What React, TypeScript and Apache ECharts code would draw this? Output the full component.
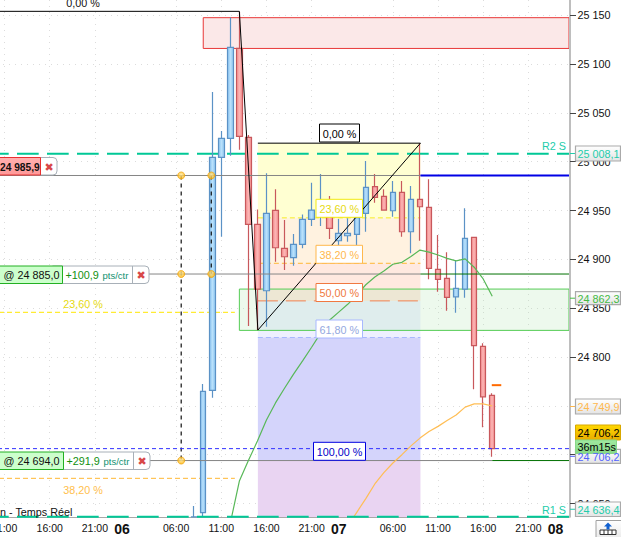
import React, { useEffect, useRef } from "react";
import * as echarts from "echarts";

// ---- Data -----------------------------------------------------------------
const hourLabels = [
  "10:00","11:00","12:00","13:00","14:00","15:00","16:00","17:00","18:00","19:00","20:00","21:00","22:00","23:00",
  "06","01:00","02:00","03:00","04:00","05:00","06:00","07:00","08:00","09:00","10:00","11:00","12:00","13:00","14:00","15:00","16:00","17:00","18:00","19:00","20:00","21:00","22:00","23:00",
  "07","01:00","02:00","03:00","04:00","05:00","06:00","07:00","08:00","09:00","10:00","11:00","12:00","13:00","14:00","15:00","16:00","17:00","18:00","19:00","20:00","21:00","22:00","23:00",
  "08","01:00",
];
const dayLabels = ["06", "07", "08"];
const labelledHours = ["06:00", "11:00", "16:00", "21:00"];
const tickedHours = ["01:00", "06:00", "11:00", "16:00", "21:00"];
const priceTicks = [24650, 24700, 24750, 24800, 24850, 24900, 24950, 25000, 25050, 25100, 25150];

const firstCandleIndex = 22;
// open, close, low, high
const candles = [
  [24636.2, 24636.4, 24636.2, 24647.4],
  [24640.6, 24764.9, 24636.2, 24772.3],
  [24765.9, 25004.5, 24758.3, 25071.4],
  [25004.5, 25023.9, 24923.2, 25031.4],
  [25023.9, 25117.1, 25006.1, 25147.8],
  [25116.1, 25026, 25012.3, 25153.6],
  [25025, 24935.9, 24831.7, 25027.3],
  [24935.9, 24869.6, 24827.6, 24951.2],
  [24867.9, 24947.1, 24831, 24988.1],
  [24950.2, 24911.9, 24897.6, 24971.7],
  [24911.3, 24902.7, 24889, 24940.3],
  [24901.7, 24915.4, 24893.5, 24926],
  [24915.4, 24941, 24911.3, 24946],
  [24941, 24950.5, 24934.1, 24978.5],
  [24946.4, 24956.7, 24934.1, 24987.4],
  [24953.6, 24931.8, 24920.8, 24964.9],
  [24919.1, 24926.7, 24909.6, 24941.3],
  [24924.2, 24926.7, 24918, 24942],
  [24925.6, 24942.8, 24914.7, 24952.6],
  [24947.1, 24973.8, 24928.3, 25000.7],
  [24974.4, 24963.5, 24958, 24987.4],
  [24964.5, 24950.5, 24949.8, 24971.7],
  [24949.8, 24968.6, 24943.7, 24980.2],
  [24968.6, 24928.3, 24923.2, 24980.2],
  [24928.3, 24961.5, 24906.2, 24975.1],
  [24961.5, 24953.9, 24919.1, 25018.8],
  [24953.3, 24890.8, 24879.6, 24982],
  [24889.8, 24879.6, 24866.9, 24924.9],
  [24880.6, 24861.1, 24847.4, 24907.2],
  [24861.7, 24870.3, 24845.4, 24899.3],
  [24869.6, 24921.5, 24860.7, 24952.3],
  [24922.6, 24811.6, 24766.9, 24922.6],
  [24810.9, 24759.3, 24728, 24814],
  [24760.8, 24706.2, 24697.9, 24762.8],
];

const greenMaStart = 26;
const greenMa = [
  24630, 24673, 24694, 24714, 24735.5, 24753, 24768, 24782.5, 24796, 24810, 24824.5, 24838, 24846, 24854, 24863.5,
  24874, 24882, 24888, 24895, 24897, 24903, 24909.5, 24907.5, 24904.5, 24901, 24898.5, 24900.5, 24892, 24880, 24862.3,
];
const orangeMaStart = 39;
const orangeMa = [
  24627, 24641, 24655, 24670, 24681.6, 24691.5, 24700, 24709, 24717, 24723.7, 24729, 24735, 24740.6, 24748.7, 24752, 24752, 24749.9,
];

const resistance2 = 25008.1;
const support1 = 24636.4;
const lastPrice = 24706.2;
const orderPrices = [24985.9, 24885.0, 24694.0];
const smallFibPrices = [24845.8, 24675.8];
const bigFibTop = 25154;
const bigFibBottom = 24827.6;
const fibTop = 25019;
const fibLevels = [24942.5, 24896, 24857.5, 24820, 24706.2];
const redZone = [25147.5, 25116];
const greenZone = [24869.6, 24827.3];
const nextMark = 24771.2;

// hour-index positions on the time axis
const axisEnd = 63.5;
const axisStart = -0.5;
const fibX = [29.05, 47.05];
const bigFibPeakX = 27;
const zoneRedX = 23;
const zoneGreenX = 27;
const orderDotX = [20.56, 23.89];
const smallFibEndX = 26.5;
const lastCandleX = 55;

// ---- Helpers ---------------------------------------------------------------
const FONT = "'Liberation Sans', Arial, sans-serif";
const TXT = `10.8px ${FONT}`;

function rectSeries(x0: number, x1: number, p0: number, p1: number, fill: string, stroke: string | null, z: number) {
  return {
    type: "custom",
    xAxisIndex: 1,
    yAxisIndex: 0,
    silent: true,
    z,
    clip: true,
    encode: { x: [0, 1], y: [2, 3] },
    data: [[x0, x1, p0, p1]],
    renderItem: (_: any, api: any) => {
      const a = api.coord([api.value(0), api.value(2)]);
      const b = api.coord([api.value(1), api.value(3)]);
      return {
        type: "rect",
        shape: { x: a[0], y: a[1], width: b[0] - a[0], height: b[1] - a[1] },
        style: { fill, stroke: stroke || undefined, lineWidth: stroke ? 1 : 0 },
      };
    },
  };
}

function lineSeries(points: number[][], color: string, width: number, dash: any, z: number, extra: any = {}) {
  return {
    type: "line",
    xAxisIndex: 1,
    yAxisIndex: 0,
    silent: true,
    showSymbol: false,
    symbol: "none",
    z,
    data: points,
    lineStyle: { color, width, type: dash || "solid", ...extra },
  };
}

function dotSeries(points: number[][]) {
  return {
    type: "scatter",
    xAxisIndex: 1,
    yAxisIndex: 0,
    silent: true,
    z: 8,
    symbolSize: 7,
    data: points,
    itemStyle: {
      color: new echarts.graphic.RadialGradient(0.5, 0.4, 0.6, [
        { offset: 0, color: "#ffe9a0" },
        { offset: 1, color: "#ffb400" },
      ]),
      borderColor: "#f0a818",
      borderWidth: 1,
    },
  };
}

const box = (x: number, y: number, w: number, h: number, fill: any, stroke: string, r: any = 0, lw = 1) => ({
  type: "rect",
  z: 30,
  shape: { x, y, width: w, height: h, r },
  style: { fill, stroke, lineWidth: lw },
});
const label = (x: number, y: number, text: string, fill: string, font = TXT, align = "left") => ({
  type: "text",
  z: 31,
  style: { x, y, text, fill, font, textAlign: align, textVerticalAlign: "middle" },
});
const vgrad = (a: string, b: string) =>
  new echarts.graphic.LinearGradient(0, 0, 0, 1, [
    { offset: 0, color: a },
    { offset: 1, color: b },
  ]);
const hgrad = (a: string, b: string) =>
  new echarts.graphic.LinearGradient(0, 0, 1, 0, [
    { offset: 0, color: a },
    { offset: 0.5, color: b },
    { offset: 1, color: a },
  ]);

function orderTag(y: number, split: number, end: number, price: string, gain: string) {
  return [
    box(split - 10, y, end - split + 10, 17.5, "#ffffff", "#a8b0b8", [0, 4, 4, 0]),
    box(-4, y, split + 4, 17.5, "#ccffcc", "#22b022"),
    { type: "line", z: 31, shape: { x1: split + 70, y1: y, x2: split + 70, y2: y + 17.5 }, style: { stroke: "#a8b0b8", lineWidth: 1 } },
    label(3.5, y + 9, price, "#101010", TXT),
    label(split + 3, y + 9, gain, "#109010", TXT),
    label(split + 40, y + 9.5, "pts/ctr", "#109070", `9.5px ${FONT}`),
    label(split + 78.5, y + 9, "✖", "#d84848", `11px 'DejaVu Sans'`, "center"),
  ];
}

function priceTag(y: number, h: number, text: string, color: string) {
  return [
    { type: "line", z: 29, shape: { x1: 570, y1: y + h / 2, x2: 576, y2: y + h / 2 }, style: { stroke: color, lineWidth: 1 } },
    box(575.5, y, 45, h, vgrad("#ffffff", "#e4e4e4"), "#aaaaaa", 0, 1.2),
    label(577.5, y + h / 2 + 0.5, text, color, TXT),
  ];
}

function fibTag(x: number, y: number, w: number, text: string, stroke: string, color: string) {
  return [box(x, y, w, 18, "#ffffff", stroke), label(x + w / 2, y + 9.5, text, color, TXT, "center")];
}

function buildOption() {
  const candleData = hourLabels.map((_, i) => {
    const c = candles[i - firstCandleIndex];
    return c ? c : ["-", "-", "-", "-"];
  });
  const ma = (start: number, vals: number[]) => vals.map((v, i) => [start + i, v]);

  const series: any[] = [
    // zones behind the candles
    rectSeries(fibX[0], fibX[1], fibTop, fibLevels[0], "#ffffd2", null, 1),
    rectSeries(fibX[0], fibX[1], fibLevels[0], fibLevels[1], "#fff2e0", null, 1),
    rectSeries(fibX[0], fibX[1], fibLevels[1], fibLevels[2], "#ffe9e0", null, 1),
    rectSeries(fibX[0], fibX[1], fibLevels[2], fibLevels[3], "#eef0ff", null, 1),
    rectSeries(fibX[0], fibX[1], fibLevels[3], orderPrices[2], "#d4d4fb", null, 1),
    rectSeries(fibX[0], fibX[1], orderPrices[2], 24636.2, "#e9d4f2", null, 1),
    rectSeries(zoneGreenX, axisEnd, greenZone[0], greenZone[1], "rgba(165,225,165,0.2)", "#55cc55", 2),
    rectSeries(zoneRedX, axisEnd, redZone[0], redZone[1], "#fbe8e8", "#e83838", 2),
    lineSeries([[axisStart, resistance2], [axisEnd, resistance2]], "#00c896", 2, [21.7, 8.3], 3, { dashOffset: 4.3 }),
    {
      type: "candlestick",
      xAxisIndex: 0,
      yAxisIndex: 0,
      z: 5,
      silent: true,
      barWidth: 6,
      data: candleData,
      itemStyle: {
        color: hgrad("#8cc4ef", "#b8e0fb"),
        color0: hgrad("#f59090", "#fbb4b4"),
        borderColor: "#5b92c6",
        borderColor0: "#c8585c",
        borderWidth: 1.2,
      },
    },
    // order lines
    lineSeries([[axisStart, orderPrices[0]], [fibX[1], orderPrices[0]]], "#858585", 1, null, 6),
    lineSeries([[fibX[1], orderPrices[0]], [axisEnd, orderPrices[0]]], "#0000e6", 2, null, 6),
    lineSeries([[axisStart, orderPrices[1]], [fibX[1], orderPrices[1]]], "#858585", 1, null, 6),
    lineSeries([[fibX[1], orderPrices[1]], [axisEnd, orderPrices[1]]], "#007000", 1, null, 6),
    lineSeries([[axisStart, orderPrices[2]], [lastCandleX, orderPrices[2]]], "#858585", 1, null, 6),
    lineSeries([[lastCandleX, orderPrices[2]], [axisEnd, orderPrices[2]]], "#007000", 1, null, 6),
    lineSeries([[orderDotX[0], orderPrices[0]], [orderDotX[0], orderPrices[2]]], "#111111", 1.2, [4, 4], 6),
    lineSeries([[orderDotX[1], orderPrices[0]], [orderDotX[1], orderPrices[1]]], "#111111", 1.2, [4, 4], 6),
    // horizontal reference levels
    lineSeries([[axisStart, lastPrice], [axisEnd, lastPrice]], "#3030ff", 1, [4, 3], 6),
    lineSeries([[axisStart, smallFibPrices[0]], [smallFibEndX, smallFibPrices[0]]], "#ffe600", 1, [5, 3], 4),
    lineSeries([[axisStart, smallFibPrices[1]], [smallFibEndX, smallFibPrices[1]]], "#ffb733", 1, [5, 3], 4),
    lineSeries([[fibX[0], fibLevels[0]], [fibX[1], fibLevels[0]]], "#f6ee20", 1, [5, 3], 4),
    lineSeries([[fibX[0], fibLevels[1]], [fibX[1], fibLevels[1]]], "#ffb733", 1, [5, 3], 4),
    lineSeries([[fibX[0], fibLevels[2]], [fibX[1], fibLevels[2]]], "#f08050", 1, [20, 8], 4),
    lineSeries([[fibX[0], fibLevels[3]], [fibX[1], fibLevels[3]]], "#a8b8ff", 1, [5, 3], 4),
    // moving averages
    lineSeries(ma(greenMaStart, greenMa), "#58b858", 1.2, null, 7),
    lineSeries(ma(orangeMaStart, orangeMa), "#ffbe55", 1.2, null, 7),
    lineSeries([[lastCandleX - 0.05, nextMark], [lastCandleX + 1, nextMark]], "#ff6a00", 2, null, 7),
    // black fibonacci drawings
    lineSeries([[axisStart, bigFibTop], [bigFibPeakX, bigFibTop], [fibX[0], bigFibBottom]], "#000000", 1, null, 9),
    lineSeries([[fibX[0], fibTop], [fibX[1], fibTop], [fibX[0], bigFibBottom]], "#000000", 1, null, 9),
    lineSeries([[axisStart, support1], [axisEnd, support1]], "#00c896", 2, [21.7, 8.3], 9, { dashOffset: 4.3 }),
    dotSeries([
      [orderDotX[0], orderPrices[0]],
      [orderDotX[1], orderPrices[0]],
      [orderDotX[0], orderPrices[1]],
      [orderDotX[1], orderPrices[1]],
      [orderDotX[0], orderPrices[2]],
    ]),
  ];

  const graphic: any[] = [
    label(83, 3, "0,00 %", "#111111", TXT, "center"),
    label(83, 304, "23,60 %", "#e6da10", TXT, "center"),
    label(83, 490, "38,20 %", "#ffc04d", TXT, "center"),
    ...fibTag(319.5, 124, 40, "0,00 %", "#000000", "#000000"),
    ...fibTag(316, 199.3, 46.5, "23,60 %", "#f2ea10", "#e6da10"),
    ...fibTag(316, 245.3, 46.5, "38,20 %", "#ffb84d", "#ffb84d"),
    ...fibTag(316, 283.5, 46.5, "50,00 %", "#f07840", "#f07840"),
    ...fibTag(316, 320, 46.5, "61,80 %", "#a8b8ff", "#94a8e0"),
    ...fibTag(313.5, 442.3, 52, "100,00 %", "#0000e0", "#0000c8"),
    // top order tag
    box(30, 157.5, 27, 17.5, "#ffffff", "#a8b0b8", [0, 4, 4, 0]),
    box(-4, 157.5, 44.5, 17.5, vgrad("#ffb0b0", "#ff9898"), "#e83030"),
    label(0, 167, "24 985,9", "#101010", `bold 10.2px ${FONT}`),
    label(49, 167, "✖", "#d84848", `11px 'DejaVu Sans'`, "center"),
    ...orderTag(266, 62.5, 149, "@ 24 885,0", "+100,9"),
    ...orderTag(452, 63.5, 150, "@ 24 694,0", "+291,9"),
    label(0, 512, "n - Temps Réel", "#111111", TXT),
    label(542, 146, "R2 S", "#22ccaa", TXT),
    label(542, 510, "R1 S", "#22ccaa", TXT),
    ...priceTag(146, 15, "25 008,1", "#22ccaa"),
    ...priceTag(291.7, 13, "24 862,3", "#44bb44"),
    ...priceTag(399, 15, "24 749,9", "#ffb84d"),
    ...priceTag(449.3, 14, "24 706,2", "#5060ff"),
    ...priceTag(502, 14.5, "24 636,4", "#22ccaa"),
    box(575.5, 425, 45, 15, vgrad("#ffd800", "#e8ac00"), "#d8a800", 0, 1),
    label(577.5, 433, "24 706,2", "#000000", TXT),
    box(575.5, 440, 41, 13.5, vgrad("#a0eaa0", "#88d888"), "#88d888", 0, 1),
    label(577.5, 447, "36m15s", "#000000", TXT),
    // bottom right button
    box(596, 520.5, 30, 20, vgrad("#ffffff", "#e8e8e8"), "#a0a0a0", 0, 1),
    { type: "polygon", z: 31, shape: { points: [[608, 522.5], [604, 526.5], [606.5, 526.5], [606.5, 529.5], [609.5, 529.5], [609.5, 526.5], [612, 526.5]] }, style: { fill: "#1060d0" } },
    box(600, 530, 16, 4.5, "#ffffff", "#303030", 0, 1),
    { type: "line", z: 31, shape: { x1: 604, y1: 530, x2: 604, y2: 534.5 }, style: { stroke: "#303030" } },
    { type: "line", z: 31, shape: { x1: 608, y1: 530, x2: 608, y2: 534.5 }, style: { stroke: "#303030" } },
    { type: "line", z: 31, shape: { x1: 612, y1: 530, x2: 612, y2: 534.5 }, style: { stroke: "#303030" } },
  ];

  const isLabelled = (_: number, v: string) => dayLabels.includes(v) || labelledHours.includes(v);
  const isTicked = (_: number, v: string) => dayLabels.includes(v) || tickedHours.includes(v);
  const isGrid = (_: number, v: string) => labelledHours.includes(v);

  return {
    animation: false,
    backgroundColor: "#ffffff",
    grid: { left: -9, top: 0, width: 578, height: 517, containLabel: false, outerBoundsMode: "none" },
    xAxis: [
      {
        type: "category",
        data: hourLabels,
        axisLine: { onZero: false, lineStyle: { color: "#a8a8a8", width: 1 } },
        axisTick: { interval: isTicked, alignWithLabel: true, length: 4, lineStyle: { color: "#777777" } },
        splitLine: {
          show: true,
          interval: isGrid,
          alignWithLabel: true,
          lineStyle: { color: "#dcdcdc", type: [1, 5] },
        },
        axisLabel: {
          interval: isLabelled,
          margin: 5,
          color: "#111111",
          fontFamily: FONT,
          fontSize: 10.5,
          formatter: (v: string) => (dayLabels.includes(v) ? `{d|${v}}` : v),
          rich: { d: { fontFamily: FONT, fontSize: 14, fontWeight: "bold", color: "#111111" } },
        },
      },
      { type: "value", min: axisStart, max: axisEnd, show: false, splitLine: { show: false } },
    ],
    yAxis: [
      {
        type: "value",
        position: "right",
        offset: 1,
        min: 24636.2,
        max: 25165.6,
        axisLine: { show: true, onZero: false, lineStyle: { color: "#a8a8a8", width: 1.5 } },
        axisTick: { show: true, customValues: priceTicks, length: 6, lineStyle: { color: "#444444" } },
        splitLine: { show: true, lineStyle: { color: "#dcdcdc", type: [1, 5] } },
        axisLabel: {
          customValues: priceTicks,
          margin: 7.5,
          color: "#111111",
          fontFamily: FONT,
          fontSize: 10.8,
          formatter: (v: number) => String(v).replace(/(\d\d)(\d{3})$/, "$1 $2"),
        },
      },
    ],
    series,
    graphic,
  };
}

export default function App() {
  const ref = useRef<HTMLDivElement | null>(null);
  useEffect(() => {
    document.body.style.margin = "0";
    document.body.style.overflow = "hidden";
    const chart = echarts.init(ref.current as HTMLDivElement, undefined, { renderer: "svg" });
    chart.setOption(buildOption() as any);
    return () => chart.dispose();
  }, []);
  return <div ref={ref} style={{ width: 621, height: 537 }} />;
}
